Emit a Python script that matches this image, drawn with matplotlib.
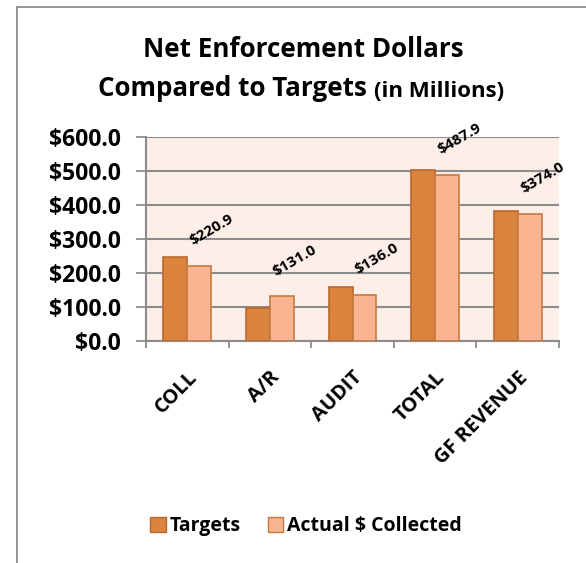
import matplotlib
matplotlib.use('Agg')
import numpy as np
import matplotlib.pyplot as plt
from matplotlib.lines import Line2D
from matplotlib.patches import Patch

plt.rcParams['font.family'] = ['Open Sans', 'DejaVu Sans']
plt.rcParams['font.weight'] = 'bold'

categories = ['COLL', 'A/R', 'AUDIT', 'TOTAL', 'GF REVENUE']
targets = [248.0, 96.0, 160.0, 503.0, 382.0]
actual = [220.9, 131.0, 136.0, 487.9, 374.0]
yticks = [0, 100, 200, 300, 400, 500, 600]

c_target = '#DA843F'
e_target = '#B9692B'
c_actual = '#F9B592'
e_actual = '#C7793D'
grid_c = '#8C8C8C'

fig = plt.figure(figsize=(5.86, 5.63), dpi=100)
ax = fig.add_axes([146/586, 1 - 341/563, (559 - 146)/586, (341 - 137)/563])

# chart frame (only left and top edges visible)
fig.add_artist(Line2D([17/586, 17/586], [0, 1 - 7/563], color='#8C8C8C', lw=1.3, transform=fig.transFigure))
fig.add_artist(Line2D([17/586, 1], [1 - 7/563, 1 - 7/563], color='#8C8C8C', lw=1.3, transform=fig.transFigure))

x = np.arange(len(categories))
w = 0.29
ax.set_facecolor('#FDEEE8')
b1 = ax.bar(x - w/2, targets, w, color=c_target, edgecolor=e_target, linewidth=1.2, zorder=3)
b2 = ax.bar(x + w/2, actual, w, color=c_actual, edgecolor=e_actual, linewidth=1.2, zorder=3)

for xi, v in zip(x, actual):
    ax.annotate('$%.1f' % v, xy=(xi + w/2, v), xytext=(9, 26), textcoords='offset points',
                rotation=30, rotation_mode='anchor', ha='center', va='center',
                fontsize=11, fontweight='bold', annotation_clip=False)

ax.set_xlim(-0.5, len(categories) - 0.5)
ax.set_ylim(0, 600)
ax.set_yticks(yticks)
ax.set_yticklabels(['$%.1f' % t for t in yticks], fontsize=16.5, fontweight='bold')
ax.grid(axis='y', color=grid_c, lw=1.5, zorder=1)
ax.set_xticks(x)
ax.set_xticklabels(categories, rotation=45, ha='right', rotation_mode='anchor',
                   fontsize=14.5, fontweight='bold')
ax.set_xticks(np.arange(len(categories) + 1) - 0.5, minor=True)
ax.tick_params(axis='x', which='major', length=0, pad=19)
ax.tick_params(axis='x', which='minor', length=5, color=grid_c, width=1.3)
ax.tick_params(axis='y', length=7, color=grid_c, width=1.3, pad=11)
for s in ['top', 'right']:
    ax.spines[s].set_visible(False)
for s in ['left', 'bottom']:
    ax.spines[s].set_color(grid_c)
    ax.spines[s].set_linewidth(1.5)

# title
fig.text(303/586, 1 - 57/563, 'Net Enforcement Dollars', ha='center', va='baseline',
         fontsize=18.7, fontweight='bold')
t2 = fig.text(98/586, 1 - 96/563, 'Compared to Targets ', ha='left', va='baseline',
              fontsize=18.7, fontweight='bold')
ax.annotate('(in Millions)', xy=(1, 0), xycoords=t2, va='bottom', ha='left',
            fontsize=16, fontweight='bold', annotation_clip=False)

handles = [Patch(facecolor=c_target, edgecolor=e_target, label='Targets'),
           Patch(facecolor=c_actual, edgecolor=e_actual, label='Actual $ Collected')]
fig.legend(handles=handles, loc='center', bbox_to_anchor=(306/586, 1 - 526/563), ncol=2,
           frameon=False, prop={'size': 14, 'weight': 'bold'}, handlelength=0.8,
           handleheight=0.8, handletextpad=0.2, columnspacing=1.4)

fig.savefig('out.png', dpi=100)
